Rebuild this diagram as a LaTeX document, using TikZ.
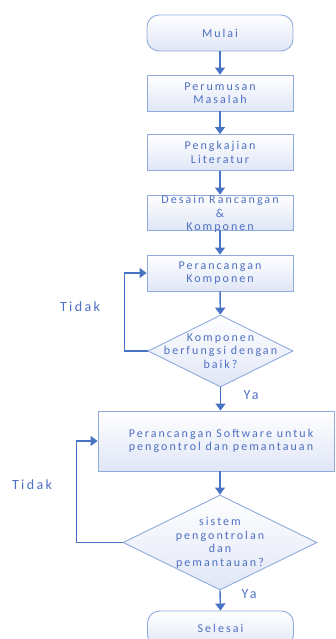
\documentclass[tikz,border=0pt]{standalone}
\usepackage{fontspec}
\setmainfont[LetterSpace=17]{Carlito}
\usetikzlibrary{shapes.geometric,arrows.meta}
\definecolor{lineblue}{RGB}{72,114,196}
\definecolor{edgeblue}{RGB}{143,170,220}
\definecolor{txtblue}{RGB}{78,112,194}
\definecolor{fillblue}{RGB}{224,230,246}
\tikzset{
  stepbox/.style={draw=edgeblue, line width=0.9pt, top color=white, bottom color=fillblue, minimum width=146pt, minimum height=36pt, inner sep=0pt},
  termbox/.style={stepbox, rounded corners=12pt},
  decbox/.style={diamond, draw=edgeblue, line width=0.9pt, top color=white, bottom color=fillblue, inner sep=0pt},
  txt/.style={text=txtblue, align=center, font=\fontsize{12}{13.5}\selectfont, inner sep=0pt},
  lbl/.style={text=txtblue, font=\fontsize{14}{16}\selectfont, inner sep=0pt},
  conn/.style={draw=lineblue, line width=1.4pt, -{Triangle[width=10pt,length=7pt]}},
}
\begin{document}
\begin{tikzpicture}[x=1pt,y=-1pt]
\useasboundingbox (0,0) rectangle (335,639);
\clip (0,0) rectangle (335,639);
\node[termbox] (mulai) at (220,33) {};
\node[txt] (tmulai) at (mulai) {Mulai};
\node[stepbox] (perumusan) at (220,93) {};
\node[txt] (tperumusan) at (perumusan) {Perumusan\\Masalah};
\node[stepbox] (pengkajian) at (220,152.5) {};
\node[txt] (tpengkajian) at (pengkajian) {Pengkajian\\Literatur};
\node[stepbox, minimum height=35pt] (desain) at (220,212.5) {};
\node[txt] (tdesain) at (220,214) {Desain Rancangan\\\&\\Komponen};
\node[stepbox] (perk) at (220,273) {};
\node[txt] (tperk) at (perk) {Perancangan\\Komponen};
\node[decbox, minimum width=145pt, minimum height=72pt] (dia1) at (220.5,351) {};
\node[txt] (tdia1) at (220.5,351) {Komponen\\berfungsi dengan\\baik?};
\node[stepbox, minimum width=236pt, minimum height=60pt] (sw) at (216,441) {};
\node[txt] (tsw) at (221,441) {Perancangan Software untuk\\pengontrol dan pemantauan};
\node[decbox, minimum width=194pt, minimum height=95pt] (dia2) at (220,542.5) {};
\node[txt] (tdia2) at (220,543) {sistem\\pengontrolan\\dan\\pemantauan?};
\node[termbox] (selesai) at (220.5,629) {};
\node[txt] (tselesai) at (220.5,628) {Selesai};
\node[lbl] (tidak1) at (80,307) {Tidak};
\node[lbl] (ya1) at (251,395) {Ya};
\node[lbl] (tidak2) at (32,485) {Tidak};
\node[lbl] (ya2) at (249,594) {Ya};
\draw[conn] (mulai) -- (perumusan);
\draw[conn] (perumusan) -- (pengkajian);
\draw[conn] (pengkajian) -- (desain);
\draw[conn] (desain) -- (perk);
\draw[conn] (perk) -- (dia1);
\draw[conn] (dia1.south) -- (dia1.south |- sw.north);
\draw[conn] (dia1.west) -- ++(-23,0) |- (perk.west);
\draw[conn] (dia2.north |- sw.south) -- (dia2.north);
\draw[conn] (dia2.west) -- ++(-46,0) |- (sw.west);
\draw[conn] (dia2.south) -- (selesai.north);
\end{tikzpicture}
\end{document}
